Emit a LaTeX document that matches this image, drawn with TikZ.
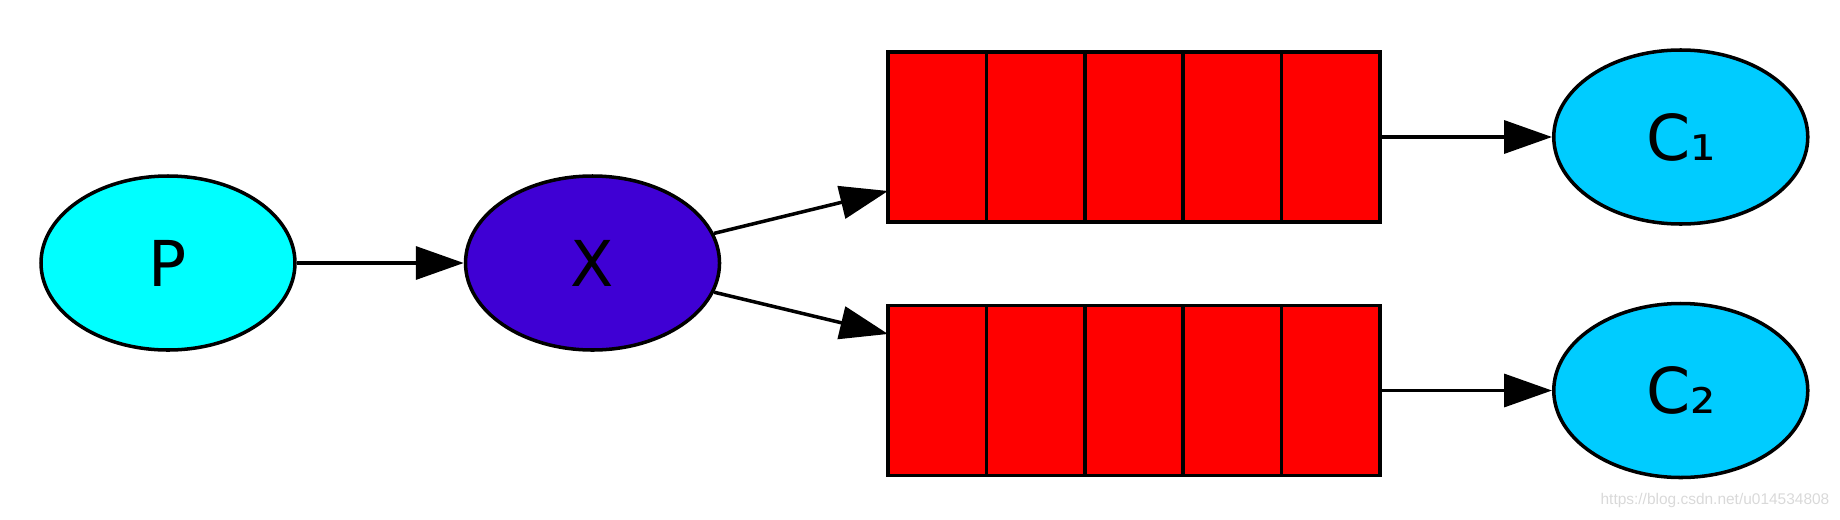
\documentclass[tikz,border=0pt]{standalone}
\usepackage{xcolor}
\usepackage{fontspec}
\setmainfont{DejaVu Sans}
\newfontfamily\urlfont{Liberation Sans}
\usepackage{tikz}
\usetikzlibrary{arrows.meta, shapes.geometric, positioning, calc}

\definecolor{pcyan}{RGB}{0,255,255}
\definecolor{xblue}{RGB}{63,0,212}
\definecolor{qred}{RGB}{255,0,0}
\definecolor{ccyan}{RGB}{0,204,255}

\begin{document}
\begin{tikzpicture}[
                actor/.style={ellipse, draw, line width=1pt, minimum width=2.54cm, minimum height=1.74cm, font=\fontsize{18}{22}\selectfont},
                cell/.style={rectangle, draw, fill=qred, line width=1pt, outer sep=0pt, minimum width=0.984cm, minimum height=1.70cm},
                link/.style={line width=1pt, -{Triangle[length=0.48cm, width=0.33cm]}}
            ]
                \useasboundingbox (0,0) rectangle (18.4,5.19);

                % Producer and exchange
                \node[actor, fill=pcyan] (P) at (1.68,2.56) {P};
                \node[actor, fill=xblue, right=1.67cm of P] (X) {X};

                % Queues
                \foreach \q/\y in {1/3.82, 2/1.285}
                    \foreach \i in {1,...,5}
                        \node[cell] (Q\q-\i) at ({8.88+0.984*(\i-0.5)},\y) {};

                % Consumers
                \node[actor, fill=ccyan, right=1.72cm of Q1-5] (C1) {C₁};
                \node[actor, fill=ccyan, right=1.72cm of Q2-5] (C2) {C₂};

                % Edges
                \draw[link] (P) -- (X);
                \draw[link] (X) -- ($(Q1-1.west)!0.635!(Q1-1.south west)$);
                \draw[link] (X) -- ($(Q2-1.west)!0.665!(Q2-1.north west)$);
                \draw[link] (Q1-5) -- (C1);
                \draw[link] (Q2-5) -- (C2);

                % Watermark
                \node[anchor=east, inner sep=0pt, text=gray!30, font=\urlfont\fontsize{4.4}{5}\selectfont] (url) at (18.3,0.19) {https://blog.csdn.net/u014534808};
            \end{tikzpicture}
\end{document}
